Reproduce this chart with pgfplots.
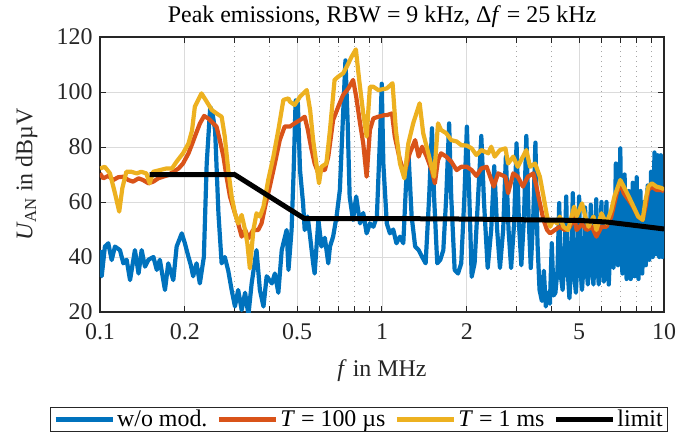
\documentclass[border=0pt]{standalone}
\usepackage{pgfplots}
\pgfplotsset{compat=1.18}
\usepackage{fontspec}
\setmainfont{Liberation Serif}
\definecolor{mblue}{rgb}{0,0.447,0.741}
\definecolor{morange}{rgb}{0.85,0.325,0.098}
\definecolor{myellow}{rgb}{0.929,0.694,0.125}
\definecolor{axgray}{rgb}{0.15,0.15,0.15}
\newcommand{\fs}{\fontsize{24}{28}\selectfont}
\begin{document}
\begin{tikzpicture}
\useasboundingbox (-100bp,-129bp) rectangle (578bp,312bp);
\begin{axis}[
  at={(0,0)}, anchor=south west,
  scale only axis, width=564bp, height=275bp,
  xmode=log, xmin=0.1, xmax=10, ymin=20, ymax=120,
  xtick={0.1,0.2,0.5,1,2,5,10},
  xticklabels={0.1,0.2,0.5,1,2,5,10},
  minor xtick={0.3,0.4,0.6,0.7,0.8,0.9,3,4,6,7,8,9},
  ytick={20,40,60,80,100,120},
  /pgf/number format/assume math mode=true,
  tick align=inside,
  major tick length=6bp, minor tick length=6bp,
  tick style={line width=1bp, axgray},
  axis line style={line width=1.3bp, axgray},
  grid=both,
  major grid style={line width=0.8bp, black!14},
  minor grid style={line width=0.8bp, black!35, dash pattern=on 1bp off 4bp},
  tick label style={font=\fs, text=axgray},
  xticklabel style={yshift=-8bp},
  yticklabel style={xshift=-4bp},
  label style={font=\fs, text=axgray},
  title style={font=\fs, text=black},
  title={Peak emissions, RBW = 9 kHz, Δ\textit{f} = 25 kHz},
  xlabel={\textit{f} in MHz},
  ylabel={\textit{U}\textsubscript{AN} in dBµV},
  xlabel style={at={(axis description cs:0.5,-0.215)}, anchor=center},
  ylabel style={at={(axis description cs:-0.13,0.5)}, anchor=center},
  legend columns=4,
  legend style={at={(axis description cs:0.459,-0.345)}, anchor=north,
    draw=axgray, line width=1bp, font=\fs, inner xsep=3bp, inner ysep=1bp,
    /tikz/every even column/.append style={column sep=7bp}},
  legend image code/.code={\draw[#1,line width=5bp] (0bp,0bp) -- (57bp,0bp);},
  every axis plot/.append style={line join=round},
]
\addplot[mblue, line width=4.2bp] coordinates {
(0.100,42.5)(0.1014,33)(0.1041,43.8)(0.107,45)(0.110,38.9)(0.113,43.8)(0.1177,42.5)(0.121,37.7)(0.1243,39)(0.1278,31.6)
(0.133,42.5)(0.137,34)(0.1405,42.5)(0.1444,36.5)(0.1485,39)(0.1547,40)(0.159,35.3)(0.163,39)(0.170,28)(0.1746,37.7)
(0.182,31.6)(0.187,43.8)(0.195,48.6)(0.200,45)(0.206,40)(0.210,37)(0.214,33)(0.220,37.7)(0.226,30.4)(0.2335,40)
(0.239,74)(0.246,94.5)(0.250,93)(0.256,86)(0.263,56)(0.270,37.7)(0.277,40)(0.285,35)(0.293,28)(0.301,22)
(0.309,28)(0.318,20.7)(0.327,27)(0.336,19)(0.345,30.4)(0.359,42.5)(0.369,28)(0.380,22)(0.390,33)(0.407,30.4)
(0.417,34)(0.429,27)(0.441,42.5)(0.459,49.8)(0.466,35.3)(0.478,50)(0.486,71)(0.494,97)(0.503,96)(0.512,71.6)
(0.525,59.5)(0.532,49.8)(0.545,54.7)(0.556,47.4)(0.570,37.7)(0.577,34)(0.595,53.5)(0.610,43.8)(0.627,47)(0.645,37.7)
(0.654,43.8)(0.671,47.4)(0.690,54.7)(0.709,64.4)(0.728,92)(0.742,111.5)(0.755,90)(0.768,62)(0.789,53.5)(0.810,62)
(0.836,52.2)(0.858,56)(0.882,48.6)(0.906,52.2)(0.932,51)(0.959,54.7)(0.986,86)(0.998,103)(1.011,74)(1.04,52.2)
(1.067,48.6)(1.096,50)(1.125,45)(1.158,47.4)(1.19,45)(1.214,64.4)(1.238,80)(1.274,54.7)(1.311,43.8)(1.349,42.5)
(1.388,40)(1.428,37.7)(1.47,62)(1.504,86.8)(1.53,62)(1.57,37.7)(1.61,39)(1.65,42.5)(1.69,62)(1.73,88.6)
(1.76,62)(1.81,35.3)(1.86,34)(1.91,37.7)(1.96,62)(2.0,87.4)(2.04,62)(2.08,32.8)(2.13,37.7)(2.2,65)
(2.25,84)(2.3,60)(2.37,36)(2.44,50)(2.5,73)(2.56,50)(2.62,36)(2.69,50)(2.75,76.5)(2.81,50)
(2.87,36)(2.94,52)(3.0,81.3)(3.06,52)(3.12,37)(3.19,55)(3.25,84)(3.31,55)(3.37,36)(3.44,55)
(3.5,81.6)(3.56,45)(3.62,28)(3.69,24)(3.75,35)(3.81,22)(3.88,27)(3.94,23)(4.0,45)(4.06,26)
(4.12,27)(4.19,35)(4.25,59.6)(4.31,33)(4.37,28)(4.44,40)(4.5,62)(4.56,34)(4.62,25)(4.69,38)
(4.75,63.2)(4.81,33)(4.87,27)(4.94,40)(5.0,62)(5.06,35)(5.12,28)(5.19,38)(5.25,58)(5.31,36)
(5.37,30)(5.44,40)(5.5,59)(5.56,36)(5.62,30)(5.69,42)(5.75,61)(5.81,37)(5.87,30)(5.94,43)
(6.0,60)(6.06,38)(6.12,31)(6.19,44)(6.25,60)(6.31,38)(6.37,30)(6.44,42)(6.5,55)(6.56,40)
(6.62,36)(6.69,50)(6.75,74)(6.81,45)(6.87,37)(6.94,55)(7.0,79.5)(7.06,46)(7.12,34)(7.19,50)
(7.25,70)(7.31,42)(7.37,32)(7.44,46)(7.5,64)(7.56,42)(7.62,32)(7.69,47)(7.75,67)(7.81,43)
(7.87,33)(7.94,48)(8.0,69)(8.06,44)(8.12,32)(8.19,45)(8.25,64)(8.31,42)(8.37,34)(8.44,44)
(8.5,60)(8.56,45)(8.62,37)(8.69,48)(8.75,66)(8.81,47)(8.87,39)(8.94,52)(9.0,71)(9.06,50)
(9.12,40)(9.19,56)(9.25,78)(9.31,52)(9.37,41)(9.44,55)(9.5,77)(9.56,52)(9.62,40)(9.69,55)
(9.75,77)(9.81,50)(9.87,40)(9.94,52)(10,65)
};
\addlegendentry{w/o mod.}
\addplot[morange, line width=4.2bp] coordinates {
(0.100,70.4)(0.1027,68.6)(0.107,69.5)(0.1115,68)(0.116,69)(0.121,69.2)(0.126,68)(0.131,67.4)(0.137,68.6)(0.142,68)
(0.1485,66.8)(0.1545,67.4)(0.161,68.6)(0.1675,69.2)(0.1746,69.8)(0.182,71)(0.190,72.2)(0.197,74)(0.206,77.7)(0.212,81)
(0.217,83.8)(0.226,88.5)(0.234,91.3)(0.242,90.4)(0.252,88.6)(0.259,87.4)(0.266,82.5)(0.274,76.5)(0.281,69.2)(0.289,62)
(0.301,55.9)(0.309,52.2)(0.318,47.4)(0.327,50)(0.336,46.8)(0.349,49.8)(0.364,49.8)(0.374,52.2)(0.385,58.3)(0.400,65.6)
(0.417,74)(0.434,82.5)(0.452,87.5)(0.471,87.4)(0.490,88.6)(0.512,89.8)(0.532,91)(0.546,86.2)(0.560,80.1)(0.577,74)
(0.595,70.4)(0.610,71.6)(0.627,71.6)(0.645,76.5)(0.671,89.8)(0.700,94.7)(0.728,98.9)(0.760,101.3)(0.790,104.4)(0.810,98.3)
(0.836,88.6)(0.858,81.3)(0.882,69.2)(0.906,86.2)(0.932,90.4)(0.970,91)(1.02,91.6)(1.04,91.6)(1.085,92.2)(1.11,83.8)
(1.158,75.3)(1.20,70.4)(1.254,77.7)(1.311,82.5)(1.349,76.5)(1.388,80.1)(1.44,76.5)(1.50,71.6)(1.54,66.8)(1.58,75.3)
(1.62,77.7)(1.69,76.5)(1.76,74.7)(1.84,71.6)(1.91,72.8)(2.0,72.8)(2.08,71.6)(2.16,69.5)(2.25,72.2)(2.35,72.8)
(2.49,65.6)(2.58,70.4)(2.74,69.2)(2.80,63.2)(2.92,70.4)(3.03,69.2)(3.16,65.6)(3.29,69.2)(3.44,70.4)(3.53,65.6)
(3.63,59.5)(3.74,53.5)(3.85,49.8)(3.95,48.6)(4.1,49.8)(4.27,51)(4.45,49.8)(4.64,51)(4.8,54.7)(4.9,49.8)
(5.12,52)(5.32,49.8)(5.55,51)(5.76,47.4)(6.0,51)(6.25,51)(6.5,54.7)(6.8,63.2)(7.0,66.8)(7.2,63.2)
(7.5,60.7)(7.8,58)(8.1,54.7)(8.4,53.5)(8.6,58.3)(8.8,64.4)(9.05,65.6)(9.4,64.4)(9.8,64.4)(10,63.8)
};
\addlegendentry{\textit{T} = 100 µs}
\addplot[myellow, line width=4.2bp] coordinates {
(0.100,72.2)(0.104,72.8)(0.1085,70.4)(0.113,63.2)(0.117,56.5)(0.120,65)(0.124,71)(0.129,71)(0.135,70.4)(0.140,71)
(0.146,70.4)(0.150,66.8)(0.1545,71)(0.163,71.6)(0.172,72.2)(0.180,72.2)(0.187,74.7)(0.197,77.7)(0.206,81.3)(0.212,86)
(0.217,94.7)(0.229,99.5)(0.239,96.5)(0.249,93.5)(0.259,92.2)(0.270,91)(0.277,83.8)(0.285,71.6)(0.293,62)(0.301,55.9)
(0.309,52.2)(0.318,55.3)(0.327,49.8)(0.333,45)(0.340,35.9)(0.350,49.8)(0.359,55.9)(0.369,54.7)(0.380,58.3)(0.395,68)
(0.412,76.5)(0.429,86.2)(0.447,97.1)(0.466,97.7)(0.471,96.5)(0.490,95.3)(0.512,98.3)(0.541,100.7)(0.556,93.5)(0.570,82.5)
(0.585,74)(0.598,66.8)(0.610,72.8)(0.635,74)(0.654,86.2)(0.679,104.4)(0.700,105.6)(0.728,106.8)(0.750,109.2)(0.780,112.8)
(0.808,115.5)(0.830,104.4)(0.858,92.2)(0.882,83.8)(0.906,101.9)(0.932,101.9)(0.970,100.7)(1.04,101.3)(1.09,103.2)(1.12,86.2)
(1.158,74)(1.20,68.6)(1.24,81.3)(1.29,88.6)(1.36,95.9)(1.40,85)(1.47,76.5)(1.53,69.2)(1.58,88.6)(1.62,86.2)
(1.69,85)(1.76,82.5)(1.84,82)(1.91,80.7)(2.0,80.5)(2.08,79.5)(2.16,77.1)(2.25,78.9)(2.38,77.7)(2.44,80.1)
(2.51,76.5)(2.62,78.9)(2.74,79.5)(2.80,74)(2.92,76.5)(3.03,72.8)(3.16,76.5)(3.25,78.9)(3.35,72.8)(3.49,74)
(3.63,69.2)(3.74,62)(3.85,54.7)(3.95,51)(4.05,53.5)(4.18,52.2)(4.27,54.7)(4.4,51)(4.57,49.8)(4.8,58.3)
(4.9,54.7)(5.12,59.5)(5.26,54.7)(5.4,51)(5.62,54.7)(5.76,49.8)(6.0,55.9)(6.25,52.2)(6.5,57)(6.67,62)
(7.0,68)(7.2,65.6)(7.5,62)(7.8,58.3)(8.1,54.7)(8.4,53.5)(8.6,60.7)(8.8,65.6)(9.05,66.8)(9.4,65.6)
(9.8,65.1)(10,64.5)
};
\addlegendentry{\textit{T} = 1 ms}
\addplot[black, line width=5bp] coordinates {
(0.15,70)(0.3,70)(0.53,54)(1,54)(2,53.8)(5,53.3)(6.3,52.7)(10,50.2)
};
\addlegendentry{limit}
\end{axis}
\end{tikzpicture}
\end{document}
